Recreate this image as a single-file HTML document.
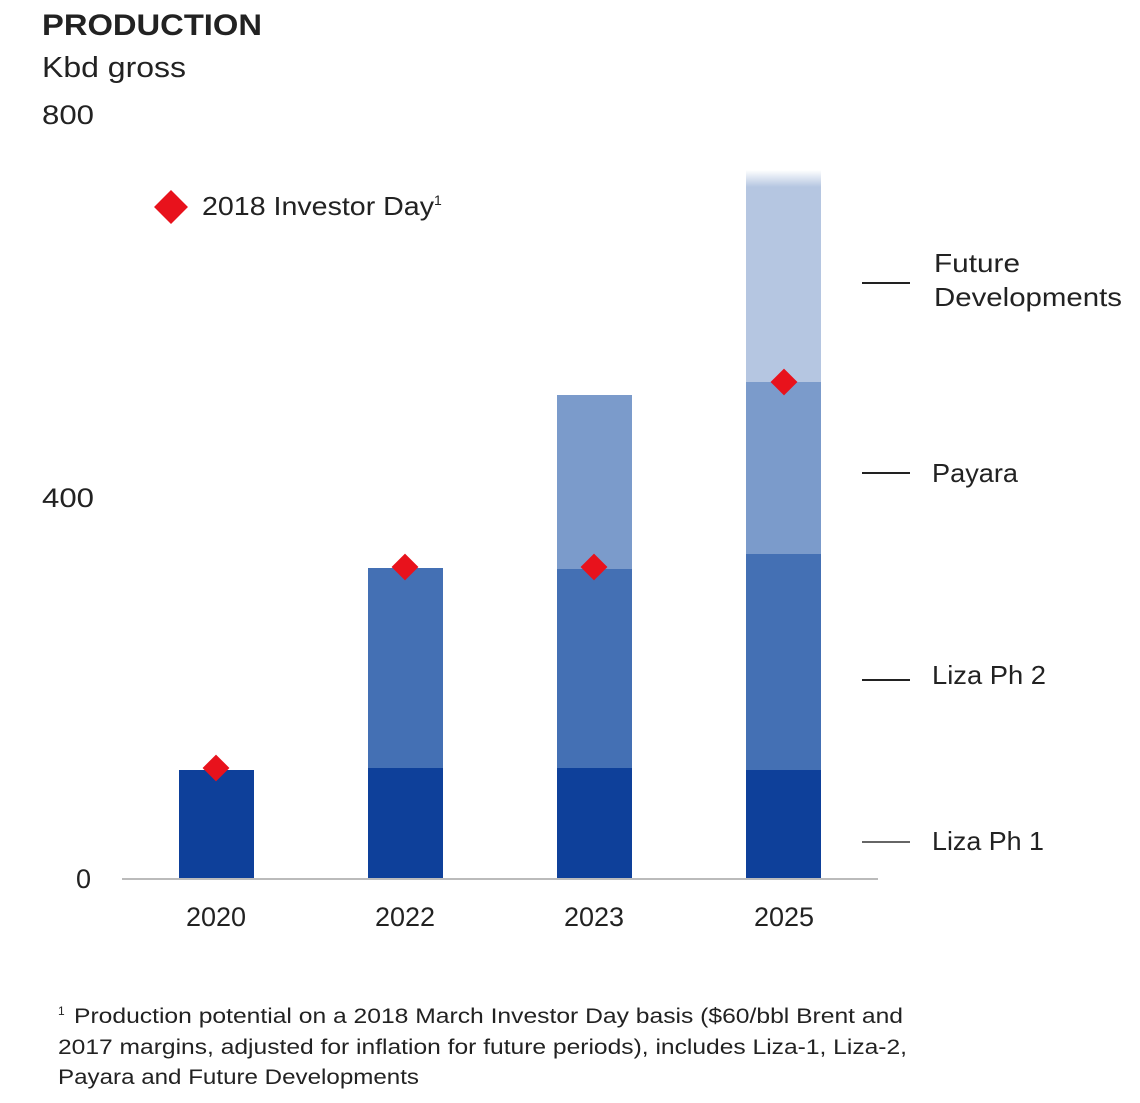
<!DOCTYPE html>
<html><head><meta charset="utf-8"><style>
html,body{margin:0;padding:0;background:#fff;width:1140px;height:1103px;overflow:hidden}
svg{display:block}
text{font-family:"Liberation Sans",sans-serif;fill:#222}
</style></head><body>
<svg width="1140" height="1103" viewBox="0 0 1140 1103">
<defs>
<linearGradient id="fade" x1="0" y1="0" x2="0" y2="1">
<stop offset="0" stop-color="#b5c6e1" stop-opacity="0"/>
<stop offset="0.08" stop-color="#b5c6e1" stop-opacity="1"/>
<stop offset="1" stop-color="#b5c6e1"/>
</linearGradient>
</defs>
<text x="42" y="35" font-size="30" font-weight="bold" fill="#222" textLength="220" lengthAdjust="spacingAndGlyphs">PRODUCTION</text>
<text x="42" y="77" font-size="29" textLength="144" lengthAdjust="spacingAndGlyphs">Kbd gross</text>
<text x="42" y="124" font-size="27" textLength="52" lengthAdjust="spacingAndGlyphs">800</text>
<text x="42" y="507" font-size="27" textLength="52" lengthAdjust="spacingAndGlyphs">400</text>
<text x="76" y="888" font-size="27">0</text>

<rect x="179" y="770" width="75" height="108" fill="#0e409a"/>
<rect x="368" y="768" width="75" height="110" fill="#0e409a"/>
<rect x="368" y="568" width="75" height="200" fill="#4470b4"/>
<rect x="557" y="768" width="75" height="110" fill="#0e409a"/>
<rect x="557" y="569" width="75" height="199" fill="#4470b4"/>
<rect x="557" y="395" width="75" height="174" fill="#7b9bcb"/>
<rect x="746" y="770" width="75" height="108" fill="#0e409a"/>
<rect x="746" y="554" width="75" height="216" fill="#4470b4"/>
<rect x="746" y="382" width="75" height="172" fill="#7b9bcb"/>
<rect x="746" y="170" width="75" height="212" fill="url(#fade)"/>

<line x1="122" y1="879" x2="878" y2="879" stroke="#bbb" stroke-width="2"/>

<g fill="#e8121c">
<rect x="-9.5" y="-9.5" width="19" height="19" transform="translate(216,768) rotate(45)"/>
<rect x="-9.5" y="-9.5" width="19" height="19" transform="translate(405,567) rotate(45)"/>
<rect x="-9.5" y="-9.5" width="19" height="19" transform="translate(594,567) rotate(45)"/>
<rect x="-9.5" y="-9.5" width="19" height="19" transform="translate(784,382) rotate(45)"/>
<rect x="-12" y="-12" width="24" height="24" transform="translate(171,207) rotate(45)"/>
</g>
<text x="202" y="215" font-size="26"><tspan textLength="232" lengthAdjust="spacingAndGlyphs">2018 Investor Day</tspan><tspan font-size="14" dy="-10">1</tspan></text>

<g font-size="27" text-anchor="middle">
<text x="216" y="926">2020</text>
<text x="405" y="926">2022</text>
<text x="594" y="926">2023</text>
<text x="784" y="926">2025</text>
</g>

<g stroke="#222" stroke-width="2">
<line x1="862" y1="283" x2="910" y2="283"/>
<line x1="862" y1="473" x2="910" y2="473"/>
<line x1="862" y1="680" x2="910" y2="680"/>
<line x1="862" y1="842" x2="910" y2="842" stroke="#666"/>
</g>
<g font-size="26">
<text x="934" y="272" textLength="86" lengthAdjust="spacingAndGlyphs">Future</text>
<text x="934" y="306" textLength="188" lengthAdjust="spacingAndGlyphs">Developments</text>
<text x="932" y="482" textLength="86" lengthAdjust="spacingAndGlyphs">Payara</text>
<text x="932" y="684" textLength="114" lengthAdjust="spacingAndGlyphs">Liza Ph 2</text>
<text x="932" y="850" textLength="112" lengthAdjust="spacingAndGlyphs">Liza Ph 1</text>
</g>

<g font-size="21" fill="#333">
<text x="58" y="1015" font-size="12">1</text>
<text x="74" y="1023" textLength="829" lengthAdjust="spacingAndGlyphs">Production potential on a 2018 March Investor Day basis ($60/bbl Brent and</text>
<text x="58" y="1054" textLength="849" lengthAdjust="spacingAndGlyphs">2017 margins, adjusted for inflation for future periods), includes Liza-1, Liza-2,</text>
<text x="58" y="1084" textLength="361" lengthAdjust="spacingAndGlyphs">Payara and Future Developments</text>
</g>
</svg>
</body></html>
